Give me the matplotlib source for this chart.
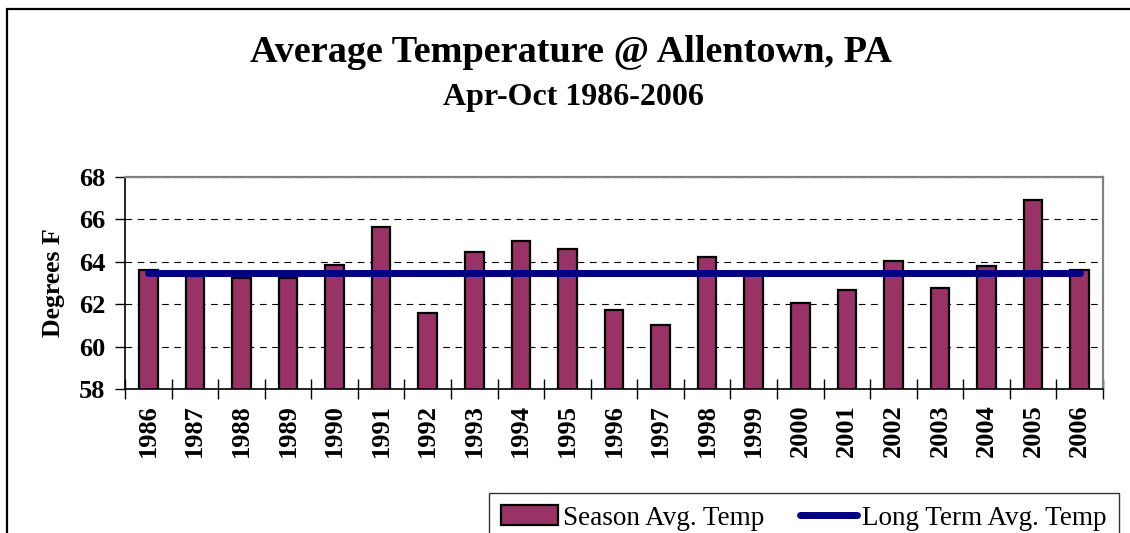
import matplotlib
matplotlib.use("Agg")
import matplotlib.pyplot as plt
from matplotlib.patches import Rectangle
from matplotlib.ticker import FixedLocator
import numpy as np

# season average temperature, Apr-Oct
years = ["1986", "1987", "1988", "1989", "1990", "1991", "1992", "1993", "1994", "1995",
         "1996", "1997", "1998", "1999", "2000", "2001", "2002", "2003", "2004", "2005", "2006"]
season_avg = [63.63, 63.35, 63.24, 63.22, 63.83, 65.64, 61.58, 64.45, 64.97, 64.62,
              61.74, 61.00, 64.24, 63.40, 62.07, 62.69, 64.04, 62.76, 63.82, 66.90, 63.63]
long_term_avg = 63.47
yticks = [58, 60, 62, 64, 66, 68]

plt.rcParams['font.family'] = ['Liberation Serif', 'DejaVu Serif']

fig = plt.figure(figsize=(11.3, 5.33), dpi=100)

# outer chart frame
fig.patches.append(Rectangle((7 / 1130, -0.05), 1.2, 1 - 9 / 533 + 0.05,
                             transform=fig.transFigure, fill=False,
                             edgecolor='black', linewidth=1.6, zorder=0))

ax = fig.add_axes([125 / 1130, 1 - 389 / 533, 978 / 1130, 212 / 533])
x = np.arange(len(years))

bars = ax.bar(x, season_avg, width=0.4, color='#993366', edgecolor='black', linewidth=1.6,
              label='Season Avg. Temp', zorder=2)
line, = ax.plot([x[0], x[-1]], [long_term_avg, long_term_avg], color='#000080', linewidth=5,
                solid_capstyle='round', label='Long Term Avg. Temp', zorder=3)

ax.set_xlim(-0.5, len(years) - 0.5)
ax.set_ylim(58, 68)
ax.set_yticks(yticks)
ax.set_yticklabels([str(v) for v in yticks], fontsize=19, fontweight='bold')
ax.tick_params(axis='y', direction='out', length=7, width=1, pad=7)

ax.set_xticks(x)
ax.set_xticklabels(years, rotation=90, fontsize=19, fontweight='bold')
ax.tick_params(axis='x', which='major', length=0, pad=11)
ax.xaxis.set_minor_locator(FixedLocator(np.arange(-0.5, len(years), 1.0)))
ax.tick_params(axis='x', which='minor', direction='inout', length=14, width=1)

ax.grid(axis='y', color='black', linestyle=(0, (6, 5)), linewidth=0.8, zorder=1)
ax.set_axisbelow(True)

for side in ['top', 'right']:
    ax.spines[side].set_color('#808080')
    ax.spines[side].set_linewidth(1.6)
for side in ['left', 'bottom']:
    ax.spines[side].set_color('black')
    ax.spines[side].set_linewidth(1.2)

ax.set_ylabel('Degrees F', fontsize=18.5, fontweight='bold', labelpad=10)

fig.text(571 / 1130, 1 - 52 / 533, 'Average Temperature @ Allentown, PA', ha='center', va='center',
         fontsize=27.5, fontweight='bold')
fig.text(573 / 1130, 1 - 97 / 533, 'Apr-Oct 1986-2006', ha='center', va='center',
         fontsize=23, fontweight='bold')

leg = fig.legend([bars, line], ['Season Avg. Temp', 'Long Term Avg. Temp'],
                 loc='upper left', bbox_to_anchor=(489 / 1130, 1 - 493 / 533),
                 ncol=2, fontsize=19.5, frameon=True, fancybox=False,
                 handlelength=2.1, handleheight=0.75, handletextpad=0.2,
                 columnspacing=1.3, borderpad=0.45, borderaxespad=0)
leg.get_frame().set_edgecolor('black')
leg.get_frame().set_linewidth(1.0)

fig.savefig('out.png', dpi=100)
